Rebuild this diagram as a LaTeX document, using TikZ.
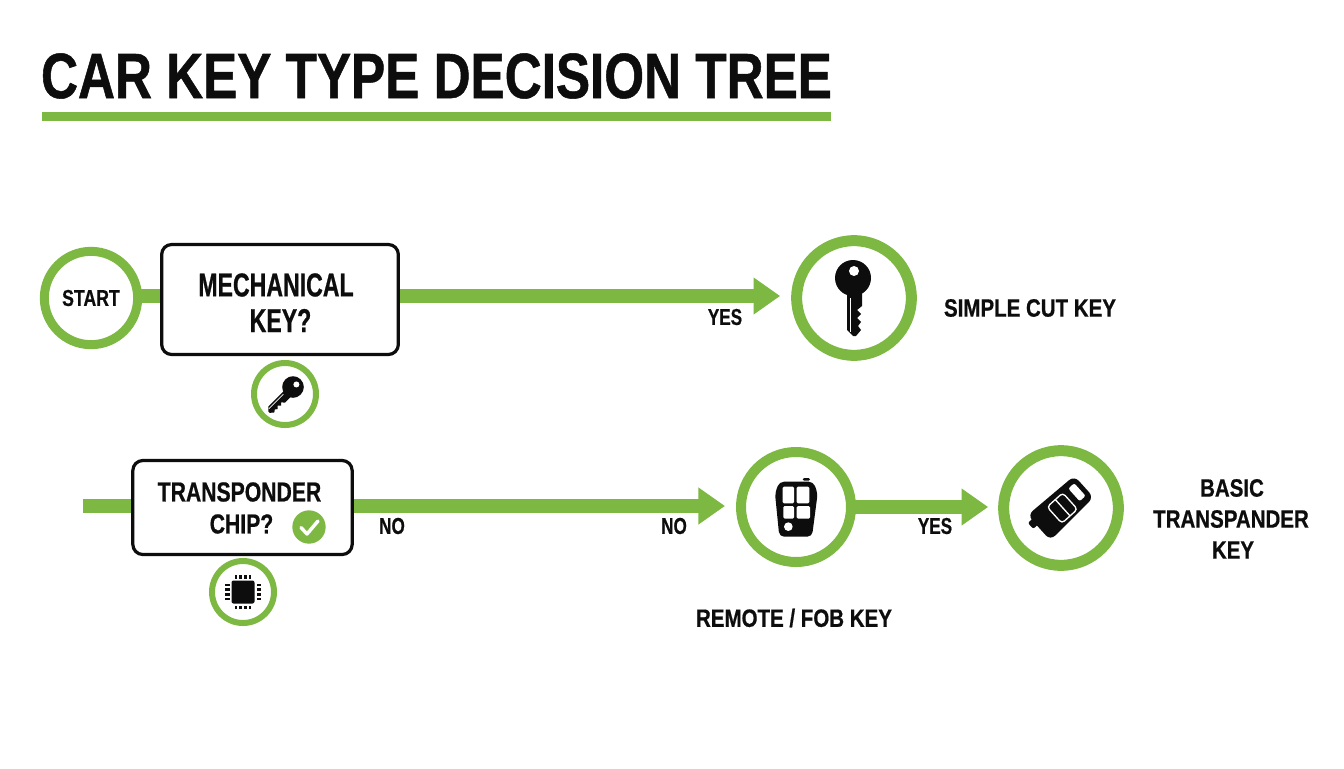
\documentclass[tikz,border=0pt]{standalone}
\usepackage{fontspec}
\usetikzlibrary{arrows.meta}
\setmainfont{Liberation Sans}
\newfontfamily\hdtitle[FakeStretch=0.80,FakeBold=0.8]{Liberation Sans Bold}
\newfontfamily\hdbox[FakeStretch=0.70,FakeBold=0.7]{Liberation Sans Bold}
\newfontfamily\hdnarrow[FakeStretch=0.745,FakeBold=0.6]{Liberation Sans Bold}
\newfontfamily\hdmid[FakeStretch=0.77,FakeBold=0.6]{Liberation Sans Bold}
\newfontfamily\hdwide[FakeStretch=0.82,FakeBold=0.6]{Liberation Sans Bold}
\definecolor{keygreen}{HTML}{7DB843}
\definecolor{ink}{HTML}{0D0D0D}
\newcommand{\pxfont}[2]{#1\fontsize{\the\dimexpr #2pt*3/4\relax}{\the\dimexpr #2pt*3/4\relax}\selectfont}
\newcommand{\keyicon}[4]{%
  \begin{scope}[shift={(#1,#2)},rotate=#4,scale=#3]
    \fill[ink] (0,0) circle (18);
    \fill[ink] (-6,12) -- (-6,52) -- (0,58) -- (3,58) -- (8,52) -- (5,48) -- (8,44) -- (4,40) -- (8,36) -- (4,32) -- (9,28) -- (9,12) -- cycle;
    \fill[white] (1,-7) circle (5);
    \fill[white] (-3.4,20) rectangle (-2.2,54);
  \end{scope}}
\tikzset{
  x=0.75pt,y=-0.75pt,
  ring/.style={circle,draw=keygreen,fill=white,inner sep=0pt,line width=#1},
  qbox/.style={draw=ink,fill=white,rounded corners=7.5pt,line width=2.4pt,inner sep=0pt},
  flow/.style={draw=keygreen,line width=10pt},
  flowarrow/.style={draw=keygreen,line width=10pt,-{Triangle[width=26.5pt,length=20pt,fill=keygreen]}},
  lbl/.style={text=ink,inner sep=0pt,align=center},
}
\begin{document}
\begin{tikzpicture}
\useasboundingbox (0,0) rectangle (1344,768);
\fill[white] (0,0) rectangle (1344,768);
% title
\node[lbl,anchor=center] (title) at (436.5,76) {\pxfont{\hdtitle}{64}CAR KEY TYPE DECISION TREE};
\coordinate (ruleL) at (42,116.5);
\coordinate (ruleR) at (831,116.5);
\draw[keygreen,line width=7pt] (ruleL) -- (ruleR);
\coordinate (row1) at (0,296);
\coordinate (stub) at (83,506);
% nodes row 1
\node[ring=6.75pt,minimum size=70pt] (start) at (91,298) {};
\node[ring=8.25pt,minimum size=86pt] (keyc) at (854,298) {};
\node[ring=4.5pt,minimum size=46.5pt] (keysm) at (285,394) {};
\node[qbox,minimum width=177.5pt,minimum height=82.5pt] (mech) at (280,299.5) {};
% nodes row 2
\node[qbox,minimum width=164.5pt,minimum height=70.5pt] (trans) at (242.5,507.5) {};
\node[ring=7.5pt,minimum size=82.5pt] (remote) at (796,507) {};
\node[ring=8.25pt,minimum size=86pt] (fob) at (1061,508) {};
\node[ring=4.5pt,minimum size=46.5pt] (chip) at (243,592) {};
\node[circle,fill=keygreen,minimum size=25pt,inner sep=0pt] (check) at (309,527) {};
% connectors
\draw[flow] ([xshift=-2pt]start.east |- row1) -- (mech.west |- row1);
\draw[flowarrow] (mech.east |- row1) -- ([xshift=-8.25pt]keyc.west |- row1);
\draw[flow] (stub) -- (trans.west |- stub);
\draw[flowarrow] (trans.east |- stub) -- ([xshift=-8.25pt]remote.west |- stub);
\draw[flowarrow] ([xshift=-1pt]remote.east) -- ([xshift=-7.5pt]fob.west |- remote);
% texts
\node[lbl] (tstart) at (91,298) {\pxfont{\hdmid}{23}START};
\node[lbl] (t1a) at (276,285) {\pxfont{\hdbox}{33}MECHANICAL};
\node[lbl] (t1b) at (280.5,320.5) {\pxfont{\hdbox}{33}KEY?};
\node[lbl] (t2a) at (239.5,492) {\pxfont{\hdmid}{27.5}TRANSPONDER};
\node[lbl] (t2b) at (241.5,524) {\pxfont{\hdmid}{27.5}CHIP?};
\node[lbl] (yes1) at (725,317) {\pxfont{\hdnarrow}{23}YES};
\node[lbl] (no1) at (392,526) {\pxfont{\hdnarrow}{23}NO};
\node[lbl] (no2) at (674,526) {\pxfont{\hdnarrow}{23}NO};
\node[lbl] (yes2) at (935,526) {\pxfont{\hdnarrow}{23}YES};
\node[lbl] (simple) at (1030,308) {\pxfont{\hdwide}{25}SIMPLE CUT KEY};
\node[lbl] (remt) at (794,618) {\pxfont{\hdwide}{25}REMOTE / FOB KEY};
\node[lbl] (bas1) at (1232,488) {\pxfont{\hdwide}{25}BASIC};
\node[lbl] (bas2) at (1231,519) {\pxfont{\hdwide}{25}TRANSPANDER};
\node[lbl] (bas3) at (1233,550) {\pxfont{\hdwide}{25}KEY};
% check mark
\draw[white,line width=2.6pt,line cap=round,line join=round] (301,527.5) -- (307,534) -- (318,521);
% key icons
\keyicon{853}{278}{1}{0}
\keyicon{293}{387}{0.6}{-45}
% remote icon
\begin{scope}[shift={(730,440)},scale=0.3333]
  \fill[ink,rounded corners=3.5pt] (148,125) -- (250,125) -- (263,160) -- (246,290) -- (148,290) -- (135,160) -- cycle;
  \fill[ink,rounded corners=1pt] (218,114) rectangle (240,122);
  \fill[white,rounded corners=1pt] (158,140) rectangle (192,190);
  \fill[white,rounded corners=1pt] (200,140) rectangle (238,190);
  \fill[white,rounded corners=1pt] (160,198) rectangle (192,236);
  \fill[white,rounded corners=1pt] (200,198) rectangle (240,236);
  \fill[white] (175,260) circle (13);
\end{scope}
% fob icon
\begin{scope}[shift={(1062,507)},rotate=42]
  \fill[ink,rounded corners=1.5pt] (-36,-11) rectangle (-27,-3);
  \fill[ink,rounded corners=5pt] (-31,-17) -- (30,-15) -- (30,14) -- (-31,17) -- cycle;
  \draw[white,line width=1pt,rounded corners=2.5pt] (-11,-10) rectangle (10,12);
  \draw[white,line width=1pt] (0,-10) -- (0,12);
  \fill[white,rounded corners=1.5pt] (17,-9.5) rectangle (25,7.5);
\end{scope}
% chip icon
\begin{scope}[shift={(243,592)}]
  \fill[ink,rounded corners=1.5pt] (-11.5,-11.5) rectangle (11.5,11.5);
  \foreach \p in {-7,-2.35,2.35,7}{
    \fill[ink] (\p-1.3,-17) rectangle (\p+1.3,-13.5);
    \fill[ink] (\p-1.3,13.5) rectangle (\p+1.3,17);
    \fill[ink] (-18,\p-1.3) rectangle (-13.5,\p+1.3);
    \fill[ink] (13.5,\p-1.3) rectangle (18,\p+1.3);
  }
\end{scope}
\end{tikzpicture}
\end{document}
